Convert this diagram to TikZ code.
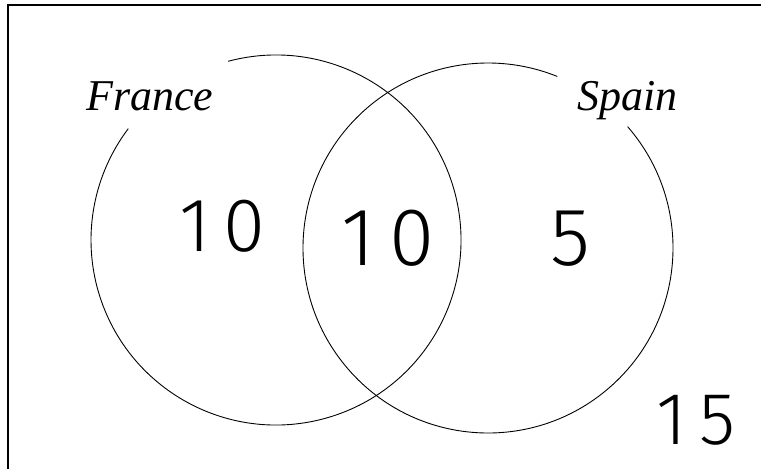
\documentclass[tikz,border=0pt]{standalone}
\usepackage{fontspec}
\setmainfont{Liberation Serif}
\newfontfamily\hand{Fira Sans Light}
\begin{document}
\begin{tikzpicture}[x=1pt,y=-1pt,
  frameline/.style={line width=1.3pt},
  setline/.style={line width=0.9pt},
  label/.style={font=\fontsize{44}{48}\selectfont\itshape, inner sep=0pt},
  num/.style={font=\hand\fontsize{#1}{#1}\selectfont, inner sep=0pt}]
\useasboundingbox (0,0) rectangle (761,469);
% partial frame
\coordinate (tl) at (8,5);
\coordinate (tr) at (761,5);
\coordinate (bl) at (8,469);
\draw[frameline] (bl) -- (tl) -- (tr);
% circles
\coordinate (cL) at (276,240);
\coordinate (cR) at (488,248);
\draw[setline] (cL) ++(255:185) arc[start angle=255, end angle=577, radius=185];
\draw[setline] (cR) ++(319:185) arc[start angle=319, end angle=652, radius=185];
% labels
\node[label, anchor=base west] (france) at (86,110) {France};
\node[label, anchor=base west] (spain) at (577,110) {Spain};
% numbers
\node[num=76] (a) at (222,226) {1\,0};
\node[num=82] (b) at (388,238) {1\,0};
\node[num=82] (c) at (570,239) {5};
\node[num=74] (d) at (696,420) {1\,5};
\end{tikzpicture}
\end{document}
